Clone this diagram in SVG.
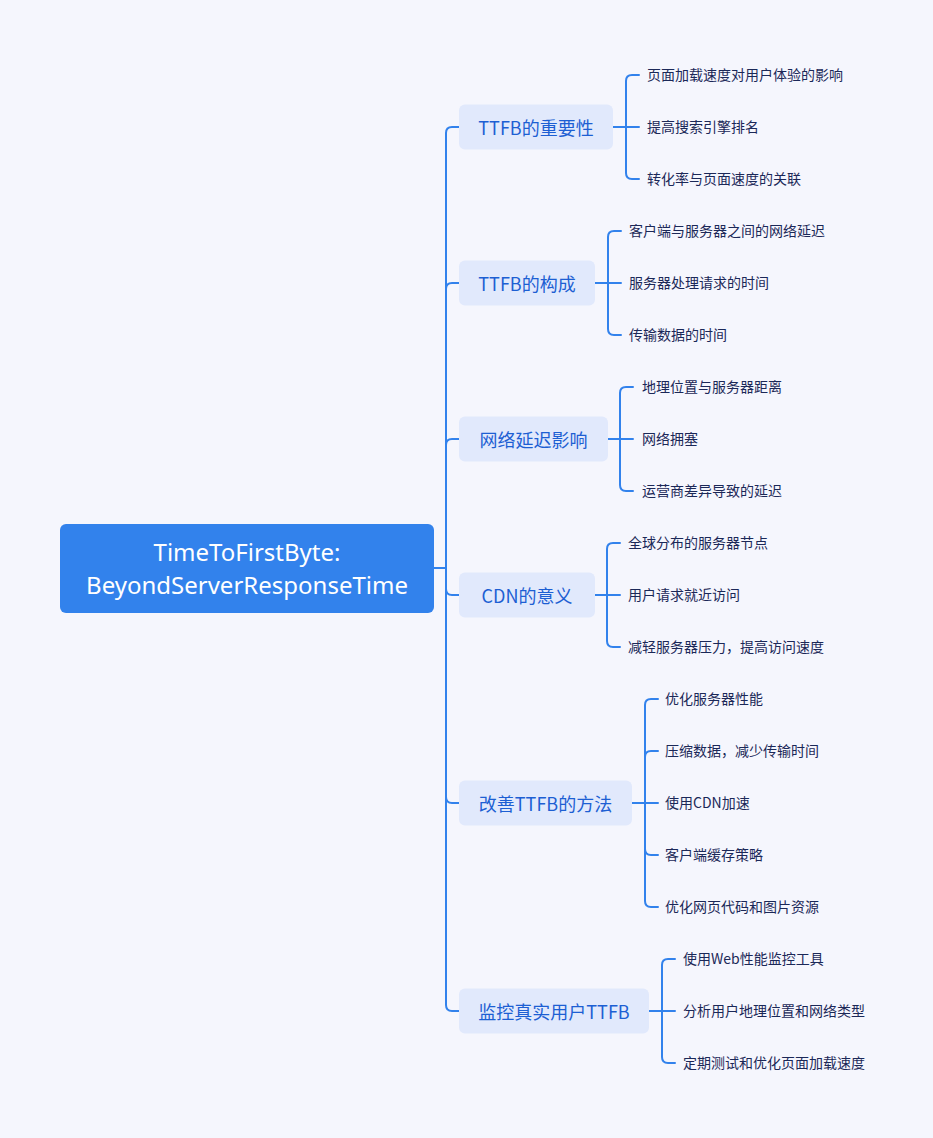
<svg xmlns="http://www.w3.org/2000/svg" width="933" height="1138" viewBox="0 0 933 1138">
<style>
.bg{fill:#f5f6fd}
.root{fill:#3282ec}
.rt{fill:#ffffff;font-family:"Noto Sans","Open Sans","Liberation Sans",sans-serif;font-size:24px;text-anchor:middle;dominant-baseline:central}
.node{fill:#e1e9fc}
.nt{fill:#1d5fd3;font-family:"Noto Sans CJK SC","Noto Sans",sans-serif;font-size:18px;text-anchor:middle;dominant-baseline:central}
.lt{fill:#1b2858;font-family:"Noto Sans CJK SC","Noto Sans",sans-serif;font-size:14px;dominant-baseline:central}
.ln{fill:none;stroke:#3282ec;stroke-width:2;stroke-linecap:round}
</style>
<rect class="bg" x="0" y="0" width="933" height="1138"/>
<g id="connectors">
<path class="ln" d="M434 568 H446"/>
<path class="ln" d="M446 568 V133 Q446 127 452 127 H459"/>
<path class="ln" d="M446 568 V289 Q446 283 452 283 H459"/>
<path class="ln" d="M446 568 V445 Q446 439 452 439 H459"/>
<path class="ln" d="M446 568 V589 Q446 595 452 595 H459"/>
<path class="ln" d="M446 568 V797 Q446 803 452 803 H459"/>
<path class="ln" d="M446 568 V1005 Q446 1011 452 1011 H459"/>
<path class="ln" d="M613 127 H639 M626 127 V81 Q626 75 632 75 H639 M626 127 V173 Q626 179 632 179 H639"/>
<path class="ln" d="M595 283 H621 M608 283 V237 Q608 231 614 231 H621 M608 283 V329 Q608 335 614 335 H621"/>
<path class="ln" d="M608 439 H633 M620 439 V393 Q620 387 626 387 H633 M620 439 V485 Q620 491 626 491 H633"/>
<path class="ln" d="M595 595 H620 M607 595 V549 Q607 543 613 543 H620 M607 595 V641 Q607 647 613 647 H620"/>
<path class="ln" d="M632 803 H658 M645 803 V705 Q645 699 651 699 H658 M645 803 V757 Q645 751 651 751 H658 M645 803 V849 Q645 855 651 855 H658 M645 803 V901 Q645 907 651 907 H658"/>
<path class="ln" d="M649 1011 H675 M662 1011 V965 Q662 959 668 959 H675 M662 1011 V1057 Q662 1063 668 1063 H675"/>
</g>
<g id="root">
<rect class="root" x="60" y="524" width="374" height="89" rx="6"/>
<text class="rt" x="247" y="551">TimeToFirstByte:</text>
<text class="rt" x="247" y="584">BeyondServerResponseTime</text>
</g>
<g id="n1">
<rect class="node" x="459" y="104.5" width="154" height="45" rx="6"/>
<text class="nt" x="536" y="126.5">TTFB的重要性</text>
</g>
<g id="n1-leaves">
<text class="lt" x="647" y="74">页面加载速度对用户体验的影响</text>
<text class="lt" x="647" y="126">提高搜索引擎排名</text>
<text class="lt" x="647" y="178">转化率与页面速度的关联</text>
</g>
<g id="n2">
<rect class="node" x="459" y="260.5" width="136" height="45" rx="6"/>
<text class="nt" x="527" y="282.5">TTFB的构成</text>
</g>
<g id="n2-leaves">
<text class="lt" x="629" y="230">客户端与服务器之间的网络延迟</text>
<text class="lt" x="629" y="282">服务器处理请求的时间</text>
<text class="lt" x="629" y="334">传输数据的时间</text>
</g>
<g id="n3">
<rect class="node" x="459" y="416.5" width="149" height="45" rx="6"/>
<text class="nt" x="533.5" y="438.5">网络延迟影响</text>
</g>
<g id="n3-leaves">
<text class="lt" x="642" y="386">地理位置与服务器距离</text>
<text class="lt" x="642" y="438">网络拥塞</text>
<text class="lt" x="642" y="490">运营商差异导致的延迟</text>
</g>
<g id="n4">
<rect class="node" x="459" y="572.5" width="136" height="45" rx="6"/>
<text class="nt" x="527" y="594.5">CDN的意义</text>
</g>
<g id="n4-leaves">
<text class="lt" x="628" y="542">全球分布的服务器节点</text>
<text class="lt" x="628" y="594">用户请求就近访问</text>
<text class="lt" x="628" y="646">减轻服务器压力，提高访问速度</text>
</g>
<g id="n5">
<rect class="node" x="459" y="780.5" width="173" height="45" rx="6"/>
<text class="nt" x="545.5" y="802.5">改善TTFB的方法</text>
</g>
<g id="n5-leaves">
<text class="lt" x="665" y="698">优化服务器性能</text>
<text class="lt" x="665" y="750">压缩数据，减少传输时间</text>
<text class="lt" x="665" y="802">使用CDN加速</text>
<text class="lt" x="665" y="854">客户端缓存策略</text>
<text class="lt" x="665" y="906">优化网页代码和图片资源</text>
</g>
<g id="n6">
<rect class="node" x="459" y="988.5" width="190" height="45" rx="6"/>
<text class="nt" x="554" y="1010.5">监控真实用户TTFB</text>
</g>
<g id="n6-leaves">
<text class="lt" x="683" y="958">使用Web性能监控工具</text>
<text class="lt" x="683" y="1010">分析用户地理位置和网络类型</text>
<text class="lt" x="683" y="1062">定期测试和优化页面加载速度</text>
</g>
</svg>
